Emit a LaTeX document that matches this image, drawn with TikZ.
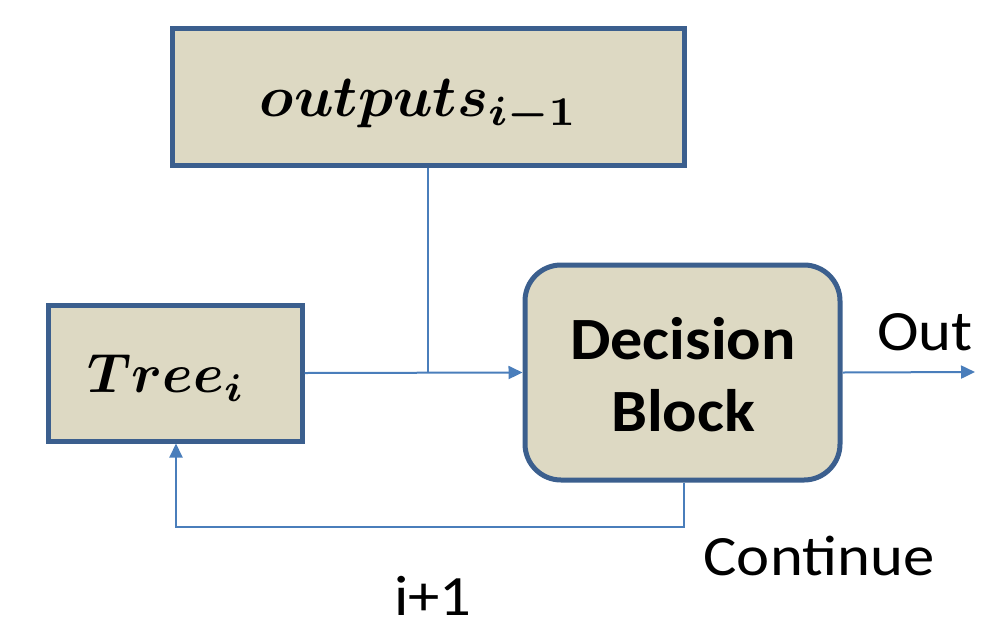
\documentclass[tikz,border=0pt]{standalone}
\usepackage{fontspec}
\usepackage{amsmath}
\usepackage{graphicx}
\newfontfamily\carlito{Carlito}
\usetikzlibrary{arrows.meta}
\definecolor{boxfill}{HTML}{DDD9C3}
\definecolor{boxdraw}{HTML}{3B5F8E}
\definecolor{linec}{HTML}{4A7EBB}
\tikzset{
  blockbox/.style={draw=boxdraw, line width=5pt, fill=boxfill, inner sep=0pt},
  conn/.style={draw=linec, line width=2pt},
  arr/.style={conn, -{Triangle[length=14pt,width=13pt]}},
  lbl/.style={font=\carlito\fontsize{57}{60}\selectfont, inner sep=0pt, anchor=base}
}
\begin{document}
\begin{tikzpicture}[x=1pt,y=-1pt]
\useasboundingbox (0,0) rectangle (981,624);
\node[blockbox, minimum width=512pt, minimum height=137pt] (outs) at (428,96.5) {};
\node[inner sep=0pt] (outst) at (419,106)
  {\resizebox{318pt}{!}{$\boldsymbol{outputs_{i-1}}$}};
\node[blockbox, minimum width=254pt, minimum height=136pt] (tree) at (175,373) {};
\node[inner sep=0pt] (treet) at (166.5,378)
  {\resizebox{157pt}{!}{$\boldsymbol{Tree_{i}}$}};
\node[blockbox, rounded corners=36pt, minimum width=315pt, minimum height=215pt] (dec) at (682.5,372.5) {};
\node[align=center, inner sep=0pt, font=\carlito\bfseries\fontsize{60}{72}\selectfont] (dect) at (683,375)
  {\scalebox{1.07}[1]{Decision}\\\scalebox{1.07}[1]{Block}};
\coordinate (j) at (428,372);
\coordinate (outend) at (975,372);
\coordinate (bl) at (684,527);
\coordinate (br) at (176,527);
\draw[conn] (outs.south) -- (j);
\draw[arr] (tree.east) -- (dec.west);
\draw[arr] (dec.east) -- (outend);
\draw[arr] (bl |- dec.south) -- (bl) -- (br) -- (br |- tree.south);
\node[lbl] (outl) at (925,350) {\scalebox{1.1}[1]{Out}};
\node[lbl] (cont) at (819,575) {\scalebox{1.1}[1]{Continue}};
\node[lbl] (ip) at (433,615) {\scalebox{1.1}[1]{i+1}};
\end{tikzpicture}
\end{document}
